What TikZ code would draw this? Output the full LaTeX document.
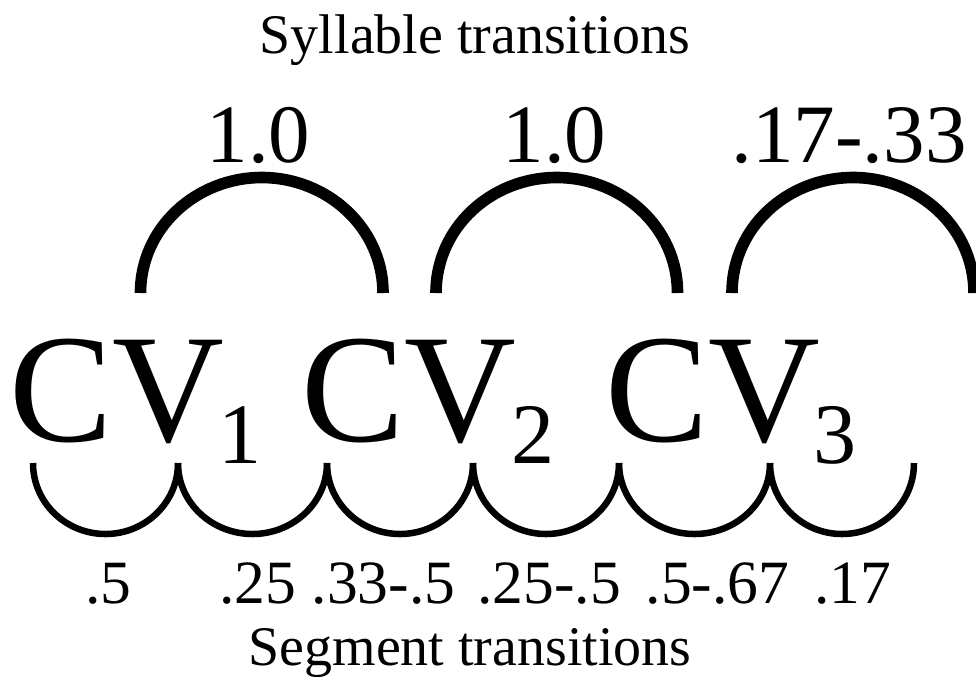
\documentclass[tikz,border=0pt]{standalone}
\usepackage{fontspec}
\setmainfont{Liberation Serif}
\usetikzlibrary{positioning,calc}
\tikzset{
  syl arc/.style={line width=3.3pt},
  seg arc/.style={line width=1.85pt},
  cv/.style={font=\fontsize{44}{44}\selectfont,anchor=base,inner sep=0pt},
  sub/.style={font=\fontsize{24.5}{24.5}\selectfont,anchor=base,inner sep=0pt},
  prob/.style={font=\fontsize{#1}{#1}\selectfont,anchor=base,inner sep=0pt},
  prob/.default=23.6,
  title/.style={font=\fontsize{15.9}{15.9}\selectfont,anchor=base,inner sep=0pt},
}
\begin{document}
\begin{tikzpicture}[x=0.01cm,y=0.01cm]
  \useasboundingbox (0,0) rectangle (976,-681);
  \node[title] (syltitle) at (475,-53) {Syllable transitions};
  \node[title] (segtitle) at (470,-665) {Segment transitions};
  % syllables
  \foreach \i/\x/\s in {1/116.5/240,2/408.5/533,3/712.5/835}{
    \node[cv] (cv\i) at (\x,-441) {CV};
    \node[sub] (sub\i) at (\s,-463) {\i};
  }
  % syllable transitions
  \foreach \i/\l/\r in {1/140.5/383,2/436/677.5,3/732/974}{
    \coordinate (syl\i a) at (\l,-293);
    \coordinate (syl\i b) at (\r,-293);
    \coordinate (syl\i top) at ($(syl\i a)!.5!(syl\i b)+(0,115.5)$);
    \draw[syl arc] (syl\i a) to[out=90,in=180] (syl\i top) to[out=0,in=90] (syl\i b);
  }
  \foreach \i/\x/\p in {1/258.5/1.0,2/554.5/1.0,3/849/.17-.33}
    \node[prob] (sylp\i) at (\x,-162) {\p};
  % segment transitions
  \foreach \i/\x in {0/33,1/178,2/327,3/473,4/619,5/770,6/914}
    \coordinate (seg\i) at (\x,-463);
  \foreach \i [count=\j] in {0,...,5}{
    \coordinate (segbot\i) at ($(seg\i)!.5!(seg\j)+(0,-71)$);
    \draw[seg arc] (seg\i) to[out=-90,in=180] (segbot\i) to[out=0,in=-90] (seg\j);
  }
  \foreach \i/\x/\p in {1/108.5/.5,2/258/.25,3/383.5/.33-.5,4/549/.25-.5,5/717.5/.5-.67,6/853/.17}
    \node[prob=17.5] (segp\i) at (\x,-603) {\p};
\end{tikzpicture}
\end{document}
